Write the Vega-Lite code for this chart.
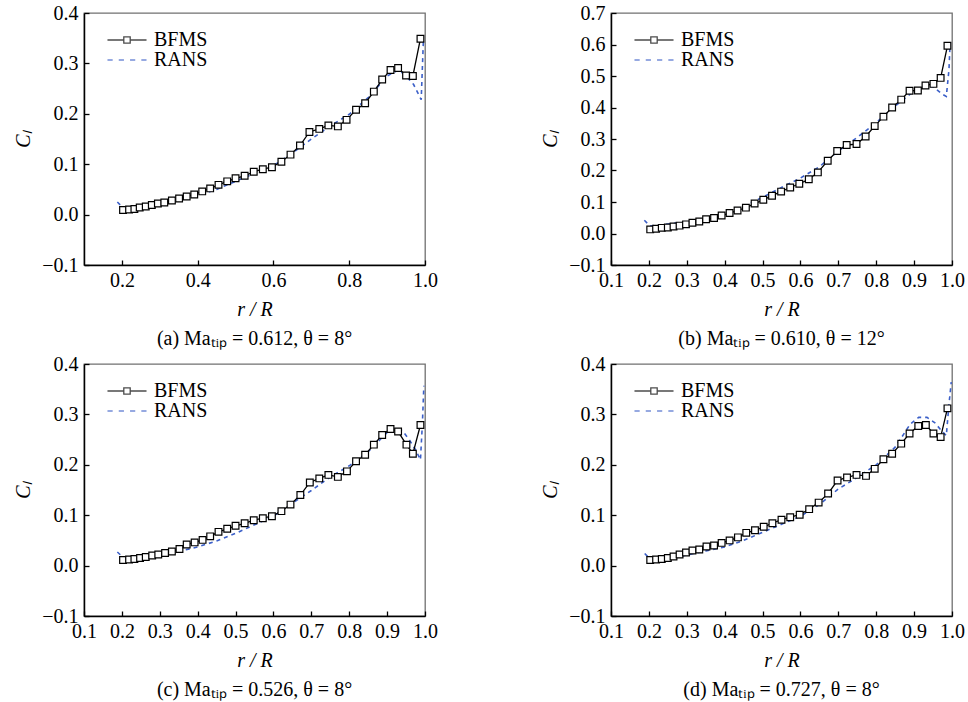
{
  "$schema": "https://vega.github.io/schema/vega-lite/v6.json",
  "background": "white",
  "padding": {"left": 13, "top": 2, "right": 5, "bottom": 5},
  "bounds": "flush",
  "columns": 2,
  "spacing": {"column": 186, "row": 99},
  "resolve": {"scale": {"shape": "independent", "stroke": "independent"}, "legend": {"shape": "independent", "stroke": "independent"}},
  "datasets": {
    "a": [
      {"s":"BFMS","r":0.203,"cl":0.009},{"s":"BFMS","r":0.219,"cl":0.010},{"s":"BFMS","r":0.233,"cl":0.011},{"s":"BFMS","r":0.247,"cl":0.014},{"s":"BFMS","r":0.263,"cl":0.016},{"s":"BFMS","r":0.279,"cl":0.019},{"s":"BFMS","r":0.295,"cl":0.022},{"s":"BFMS","r":0.312,"cl":0.024},{"s":"BFMS","r":0.332,"cl":0.028},{"s":"BFMS","r":0.351,"cl":0.032},{"s":"BFMS","r":0.371,"cl":0.036},{"s":"BFMS","r":0.391,"cl":0.040},{"s":"BFMS","r":0.412,"cl":0.046},{"s":"BFMS","r":0.433,"cl":0.052},{"s":"BFMS","r":0.455,"cl":0.059},{"s":"BFMS","r":0.478,"cl":0.066},{"s":"BFMS","r":0.500,"cl":0.072},{"s":"BFMS","r":0.524,"cl":0.077},{"s":"BFMS","r":0.548,"cl":0.085},{"s":"BFMS","r":0.572,"cl":0.090},{"s":"BFMS","r":0.596,"cl":0.094},{"s":"BFMS","r":0.621,"cl":0.105},{"s":"BFMS","r":0.645,"cl":0.119},{"s":"BFMS","r":0.670,"cl":0.137},{"s":"BFMS","r":0.695,"cl":0.164},{"s":"BFMS","r":0.721,"cl":0.170},{"s":"BFMS","r":0.745,"cl":0.177},{"s":"BFMS","r":0.770,"cl":0.175},{"s":"BFMS","r":0.793,"cl":0.188},{"s":"BFMS","r":0.818,"cl":0.208},{"s":"BFMS","r":0.842,"cl":0.221},{"s":"BFMS","r":0.865,"cl":0.244},{"s":"BFMS","r":0.887,"cl":0.268},{"s":"BFMS","r":0.909,"cl":0.287},{"s":"BFMS","r":0.929,"cl":0.291},{"s":"BFMS","r":0.950,"cl":0.276},{"s":"BFMS","r":0.968,"cl":0.275},{"s":"BFMS","r":0.988,"cl":0.349},
      {"s":"RANS","r":0.188,"cl":0.025},{"s":"RANS","r":0.205,"cl":0.012},{"s":"RANS","r":0.25,"cl":0.014},{"s":"RANS","r":0.3,"cl":0.021},{"s":"RANS","r":0.35,"cl":0.030},{"s":"RANS","r":0.4,"cl":0.038},{"s":"RANS","r":0.45,"cl":0.050},{"s":"RANS","r":0.5,"cl":0.066},{"s":"RANS","r":0.55,"cl":0.082},{"s":"RANS","r":0.6,"cl":0.097},{"s":"RANS","r":0.65,"cl":0.122},{"s":"RANS","r":0.7,"cl":0.150},{"s":"RANS","r":0.75,"cl":0.176},{"s":"RANS","r":0.8,"cl":0.199},{"s":"RANS","r":0.85,"cl":0.232},{"s":"RANS","r":0.9,"cl":0.275},{"s":"RANS","r":0.93,"cl":0.287},{"s":"RANS","r":0.95,"cl":0.275},{"s":"RANS","r":0.97,"cl":0.258},{"s":"RANS","r":0.99,"cl":0.228},{"s":"RANS","r":0.993,"cl":0.29},{"s":"RANS","r":0.996,"cl":0.35}
    ],
    "b": [
      {"s":"BFMS","r":0.2035,"cl":0.013},{"s":"BFMS","r":0.219,"cl":0.015},{"s":"BFMS","r":0.234,"cl":0.018},{"s":"BFMS","r":0.250,"cl":0.019},{"s":"BFMS","r":0.265,"cl":0.022},{"s":"BFMS","r":0.281,"cl":0.025},{"s":"BFMS","r":0.298,"cl":0.029},{"s":"BFMS","r":0.315,"cl":0.034},{"s":"BFMS","r":0.333,"cl":0.038},{"s":"BFMS","r":0.351,"cl":0.045},{"s":"BFMS","r":0.372,"cl":0.049},{"s":"BFMS","r":0.392,"cl":0.057},{"s":"BFMS","r":0.413,"cl":0.065},{"s":"BFMS","r":0.434,"cl":0.073},{"s":"BFMS","r":0.456,"cl":0.082},{"s":"BFMS","r":0.479,"cl":0.095},{"s":"BFMS","r":0.502,"cl":0.107},{"s":"BFMS","r":0.525,"cl":0.120},{"s":"BFMS","r":0.549,"cl":0.133},{"s":"BFMS","r":0.573,"cl":0.146},{"s":"BFMS","r":0.597,"cl":0.158},{"s":"BFMS","r":0.622,"cl":0.172},{"s":"BFMS","r":0.646,"cl":0.194},{"s":"BFMS","r":0.672,"cl":0.231},{"s":"BFMS","r":0.697,"cl":0.262},{"s":"BFMS","r":0.722,"cl":0.281},{"s":"BFMS","r":0.748,"cl":0.284},{"s":"BFMS","r":0.772,"cl":0.308},{"s":"BFMS","r":0.796,"cl":0.341},{"s":"BFMS","r":0.819,"cl":0.371},{"s":"BFMS","r":0.842,"cl":0.400},{"s":"BFMS","r":0.866,"cl":0.425},{"s":"BFMS","r":0.888,"cl":0.453},{"s":"BFMS","r":0.910,"cl":0.454},{"s":"BFMS","r":0.930,"cl":0.470},{"s":"BFMS","r":0.951,"cl":0.475},{"s":"BFMS","r":0.970,"cl":0.494},{"s":"BFMS","r":0.988,"cl":0.596},
      {"s":"RANS","r":0.188,"cl":0.042},{"s":"RANS","r":0.203,"cl":0.024},{"s":"RANS","r":0.25,"cl":0.030},{"s":"RANS","r":0.3,"cl":0.037},{"s":"RANS","r":0.35,"cl":0.048},{"s":"RANS","r":0.4,"cl":0.063},{"s":"RANS","r":0.45,"cl":0.085},{"s":"RANS","r":0.5,"cl":0.115},{"s":"RANS","r":0.55,"cl":0.146},{"s":"RANS","r":0.6,"cl":0.176},{"s":"RANS","r":0.65,"cl":0.212},{"s":"RANS","r":0.7,"cl":0.262},{"s":"RANS","r":0.75,"cl":0.305},{"s":"RANS","r":0.8,"cl":0.352},{"s":"RANS","r":0.85,"cl":0.405},{"s":"RANS","r":0.9,"cl":0.452},{"s":"RANS","r":0.93,"cl":0.468},{"s":"RANS","r":0.95,"cl":0.466},{"s":"RANS","r":0.975,"cl":0.442},{"s":"RANS","r":0.985,"cl":0.435},{"s":"RANS","r":0.992,"cl":0.52},{"s":"RANS","r":0.995,"cl":0.605}
    ],
    "c": [
      {"s":"BFMS","r":0.203,"cl":0.011},{"s":"BFMS","r":0.219,"cl":0.012},{"s":"BFMS","r":0.233,"cl":0.013},{"s":"BFMS","r":0.248,"cl":0.015},{"s":"BFMS","r":0.263,"cl":0.017},{"s":"BFMS","r":0.280,"cl":0.020},{"s":"BFMS","r":0.296,"cl":0.022},{"s":"BFMS","r":0.314,"cl":0.025},{"s":"BFMS","r":0.332,"cl":0.028},{"s":"BFMS","r":0.352,"cl":0.033},{"s":"BFMS","r":0.371,"cl":0.042},{"s":"BFMS","r":0.392,"cl":0.046},{"s":"BFMS","r":0.413,"cl":0.051},{"s":"BFMS","r":0.433,"cl":0.058},{"s":"BFMS","r":0.455,"cl":0.067},{"s":"BFMS","r":0.478,"cl":0.073},{"s":"BFMS","r":0.500,"cl":0.079},{"s":"BFMS","r":0.524,"cl":0.084},{"s":"BFMS","r":0.548,"cl":0.090},{"s":"BFMS","r":0.572,"cl":0.094},{"s":"BFMS","r":0.596,"cl":0.098},{"s":"BFMS","r":0.621,"cl":0.108},{"s":"BFMS","r":0.645,"cl":0.121},{"s":"BFMS","r":0.671,"cl":0.140},{"s":"BFMS","r":0.696,"cl":0.165},{"s":"BFMS","r":0.721,"cl":0.173},{"s":"BFMS","r":0.745,"cl":0.180},{"s":"BFMS","r":0.770,"cl":0.176},{"s":"BFMS","r":0.794,"cl":0.187},{"s":"BFMS","r":0.818,"cl":0.207},{"s":"BFMS","r":0.842,"cl":0.220},{"s":"BFMS","r":0.865,"cl":0.240},{"s":"BFMS","r":0.887,"cl":0.259},{"s":"BFMS","r":0.909,"cl":0.271},{"s":"BFMS","r":0.929,"cl":0.266},{"s":"BFMS","r":0.951,"cl":0.240},{"s":"BFMS","r":0.968,"cl":0.222},{"s":"BFMS","r":0.988,"cl":0.279},
      {"s":"RANS","r":0.188,"cl":0.027},{"s":"RANS","r":0.208,"cl":0.013},{"s":"RANS","r":0.25,"cl":0.015},{"s":"RANS","r":0.3,"cl":0.021},{"s":"RANS","r":0.35,"cl":0.028},{"s":"RANS","r":0.4,"cl":0.037},{"s":"RANS","r":0.45,"cl":0.049},{"s":"RANS","r":0.5,"cl":0.064},{"s":"RANS","r":0.55,"cl":0.081},{"s":"RANS","r":0.6,"cl":0.098},{"s":"RANS","r":0.65,"cl":0.124},{"s":"RANS","r":0.7,"cl":0.149},{"s":"RANS","r":0.75,"cl":0.176},{"s":"RANS","r":0.8,"cl":0.198},{"s":"RANS","r":0.85,"cl":0.226},{"s":"RANS","r":0.9,"cl":0.264},{"s":"RANS","r":0.92,"cl":0.272},{"s":"RANS","r":0.94,"cl":0.268},{"s":"RANS","r":0.96,"cl":0.248},{"s":"RANS","r":0.975,"cl":0.23},{"s":"RANS","r":0.988,"cl":0.21},{"s":"RANS","r":0.993,"cl":0.28},{"s":"RANS","r":0.997,"cl":0.357}
    ],
    "d": [
      {"s":"BFMS","r":0.2035,"cl":0.011},{"s":"BFMS","r":0.219,"cl":0.012},{"s":"BFMS","r":0.234,"cl":0.013},{"s":"BFMS","r":0.250,"cl":0.015},{"s":"BFMS","r":0.265,"cl":0.018},{"s":"BFMS","r":0.281,"cl":0.022},{"s":"BFMS","r":0.298,"cl":0.026},{"s":"BFMS","r":0.315,"cl":0.030},{"s":"BFMS","r":0.333,"cl":0.032},{"s":"BFMS","r":0.352,"cl":0.038},{"s":"BFMS","r":0.372,"cl":0.040},{"s":"BFMS","r":0.392,"cl":0.045},{"s":"BFMS","r":0.413,"cl":0.050},{"s":"BFMS","r":0.435,"cl":0.056},{"s":"BFMS","r":0.457,"cl":0.065},{"s":"BFMS","r":0.480,"cl":0.070},{"s":"BFMS","r":0.503,"cl":0.077},{"s":"BFMS","r":0.526,"cl":0.084},{"s":"BFMS","r":0.550,"cl":0.091},{"s":"BFMS","r":0.573,"cl":0.096},{"s":"BFMS","r":0.598,"cl":0.101},{"s":"BFMS","r":0.623,"cl":0.112},{"s":"BFMS","r":0.648,"cl":0.125},{"s":"BFMS","r":0.673,"cl":0.143},{"s":"BFMS","r":0.698,"cl":0.169},{"s":"BFMS","r":0.723,"cl":0.175},{"s":"BFMS","r":0.748,"cl":0.180},{"s":"BFMS","r":0.773,"cl":0.178},{"s":"BFMS","r":0.796,"cl":0.192},{"s":"BFMS","r":0.819,"cl":0.211},{"s":"BFMS","r":0.842,"cl":0.222},{"s":"BFMS","r":0.866,"cl":0.242},{"s":"BFMS","r":0.888,"cl":0.262},{"s":"BFMS","r":0.911,"cl":0.277},{"s":"BFMS","r":0.931,"cl":0.279},{"s":"BFMS","r":0.951,"cl":0.262},{"s":"BFMS","r":0.970,"cl":0.255},{"s":"BFMS","r":0.988,"cl":0.312},
      {"s":"RANS","r":0.189,"cl":0.024},{"s":"RANS","r":0.204,"cl":0.012},{"s":"RANS","r":0.25,"cl":0.014},{"s":"RANS","r":0.3,"cl":0.021},{"s":"RANS","r":0.35,"cl":0.029},{"s":"RANS","r":0.4,"cl":0.037},{"s":"RANS","r":0.45,"cl":0.050},{"s":"RANS","r":0.5,"cl":0.066},{"s":"RANS","r":0.55,"cl":0.082},{"s":"RANS","r":0.6,"cl":0.098},{"s":"RANS","r":0.65,"cl":0.121},{"s":"RANS","r":0.7,"cl":0.152},{"s":"RANS","r":0.75,"cl":0.175},{"s":"RANS","r":0.8,"cl":0.200},{"s":"RANS","r":0.85,"cl":0.235},{"s":"RANS","r":0.89,"cl":0.281},{"s":"RANS","r":0.912,"cl":0.294},{"s":"RANS","r":0.934,"cl":0.294},{"s":"RANS","r":0.955,"cl":0.283},{"s":"RANS","r":0.972,"cl":0.268},{"s":"RANS","r":0.985,"cl":0.258},{"s":"RANS","r":0.992,"cl":0.32},{"s":"RANS","r":0.998,"cl":0.364}
    ]
  },
  "concat": [
    {
      "data": {"name": "a"},
      "width": 341, "height": 252,
      "title": {"text": "(a)  Maₜᵢₚ = 0.612, θ = 8°"},
      "encoding": {
        "x": {"field": "r", "type": "quantitative", "scale": {"domain": [0.1, 1.0], "nice": false, "zero": false}, "axis": {"values": [0.2, 0.4, 0.6, 0.8, 1.0], "format": ".1f", "title": "r / R"}},
        "y": {"field": "cl", "type": "quantitative", "scale": {"domain": [-0.1, 0.4], "nice": false, "zero": false}, "axis": {"values": [-0.1, 0, 0.1, 0.2, 0.3, 0.4], "format": ".1f", "title": "Cₗ"}}
      },
      "layer": [
        {"transform": [{"filter": "datum.s === 'RANS'"}], "mark": {"type": "line", "stroke": "#3b5fc8", "strokeWidth": 1.6, "strokeDash": [4, 4]}},
        {"transform": [{"filter": "datum.s === 'BFMS'"}], "mark": {"type": "line", "stroke": "black", "strokeWidth": 1.3}},
        {"transform": [{"filter": "datum.s === 'BFMS'"}], "mark": {"type": "point", "shape": "square", "filled": true, "fill": "white", "stroke": "black", "strokeWidth": 1.2, "size": 45, "opacity": 1}},
        {"transform": [{"filter": "datum.r > 5"}], "mark": {"type": "point"},
         "encoding": {
           "shape": {"field": "s", "type": "nominal", "scale": {"domain": ["BFMS", "RANS"], "range": ["M-2.44,0H-0.4M0.4,0H2.44M-0.4,-0.4H0.4V0.4H-0.4Z", "M-2.44,0H-1.79M-1.03,0H-0.38M0.38,0H1.03M1.79,0H2.44"]}, "legend": {"title": null}},
           "stroke": {"field": "s", "type": "nominal", "scale": {"domain": ["BFMS", "RANS"], "range": ["black", "#3b5fc8"]}, "legend": {"title": null}}
         }}
      ]
    },
    {
      "data": {"name": "b"},
      "width": 341, "height": 252,
      "title": {"text": "(b)  Maₜᵢₚ = 0.610, θ = 12°"},
      "encoding": {
        "x": {"field": "r", "type": "quantitative", "scale": {"domain": [0.1, 1.0], "nice": false, "zero": false}, "axis": {"values": [0.1, 0.2, 0.3, 0.4, 0.5, 0.6, 0.7, 0.8, 0.9, 1.0], "format": ".1f", "title": "r / R"}},
        "y": {"field": "cl", "type": "quantitative", "scale": {"domain": [-0.1, 0.7], "nice": false, "zero": false}, "axis": {"values": [-0.1, 0, 0.1, 0.2, 0.3, 0.4, 0.5, 0.6, 0.7], "format": ".1f", "title": "Cₗ"}}
      },
      "layer": [
        {"transform": [{"filter": "datum.s === 'RANS'"}], "mark": {"type": "line", "stroke": "#3b5fc8", "strokeWidth": 1.6, "strokeDash": [4, 4]}},
        {"transform": [{"filter": "datum.s === 'BFMS'"}], "mark": {"type": "line", "stroke": "black", "strokeWidth": 1.3}},
        {"transform": [{"filter": "datum.s === 'BFMS'"}], "mark": {"type": "point", "shape": "square", "filled": true, "fill": "white", "stroke": "black", "strokeWidth": 1.2, "size": 45, "opacity": 1}},
        {"transform": [{"filter": "datum.r > 5"}], "mark": {"type": "point"},
         "encoding": {
           "shape": {"field": "s", "type": "nominal", "scale": {"domain": ["BFMS", "RANS"], "range": ["M-2.44,0H-0.4M0.4,0H2.44M-0.4,-0.4H0.4V0.4H-0.4Z", "M-2.44,0H-1.79M-1.03,0H-0.38M0.38,0H1.03M1.79,0H2.44"]}, "legend": {"title": null}},
           "stroke": {"field": "s", "type": "nominal", "scale": {"domain": ["BFMS", "RANS"], "range": ["black", "#3b5fc8"]}, "legend": {"title": null}}
         }}
      ]
    },
    {
      "data": {"name": "c"},
      "width": 341, "height": 252,
      "title": {"text": "(c)  Maₜᵢₚ = 0.526, θ = 8°"},
      "encoding": {
        "x": {"field": "r", "type": "quantitative", "scale": {"domain": [0.1, 1.0], "nice": false, "zero": false}, "axis": {"values": [0.1, 0.2, 0.3, 0.4, 0.5, 0.6, 0.7, 0.8, 0.9, 1.0], "format": ".1f", "title": "r / R"}},
        "y": {"field": "cl", "type": "quantitative", "scale": {"domain": [-0.1, 0.4], "nice": false, "zero": false}, "axis": {"values": [-0.1, 0, 0.1, 0.2, 0.3, 0.4], "format": ".1f", "title": "Cₗ"}}
      },
      "layer": [
        {"transform": [{"filter": "datum.s === 'RANS'"}], "mark": {"type": "line", "stroke": "#3b5fc8", "strokeWidth": 1.6, "strokeDash": [4, 4]}},
        {"transform": [{"filter": "datum.s === 'BFMS'"}], "mark": {"type": "line", "stroke": "black", "strokeWidth": 1.3}},
        {"transform": [{"filter": "datum.s === 'BFMS'"}], "mark": {"type": "point", "shape": "square", "filled": true, "fill": "white", "stroke": "black", "strokeWidth": 1.2, "size": 45, "opacity": 1}},
        {"transform": [{"filter": "datum.r > 5"}], "mark": {"type": "point"},
         "encoding": {
           "shape": {"field": "s", "type": "nominal", "scale": {"domain": ["BFMS", "RANS"], "range": ["M-2.44,0H-0.4M0.4,0H2.44M-0.4,-0.4H0.4V0.4H-0.4Z", "M-2.44,0H-1.79M-1.03,0H-0.38M0.38,0H1.03M1.79,0H2.44"]}, "legend": {"title": null}},
           "stroke": {"field": "s", "type": "nominal", "scale": {"domain": ["BFMS", "RANS"], "range": ["black", "#3b5fc8"]}, "legend": {"title": null}}
         }}
      ]
    },
    {
      "data": {"name": "d"},
      "width": 341, "height": 252,
      "title": {"text": "(d)  Maₜᵢₚ = 0.727, θ = 8°"},
      "encoding": {
        "x": {"field": "r", "type": "quantitative", "scale": {"domain": [0.1, 1.0], "nice": false, "zero": false}, "axis": {"values": [0.1, 0.2, 0.3, 0.4, 0.5, 0.6, 0.7, 0.8, 0.9, 1.0], "format": ".1f", "title": "r / R"}},
        "y": {"field": "cl", "type": "quantitative", "scale": {"domain": [-0.1, 0.4], "nice": false, "zero": false}, "axis": {"values": [-0.1, 0, 0.1, 0.2, 0.3, 0.4], "format": ".1f", "title": "Cₗ"}}
      },
      "layer": [
        {"transform": [{"filter": "datum.s === 'RANS'"}], "mark": {"type": "line", "stroke": "#3b5fc8", "strokeWidth": 1.6, "strokeDash": [4, 4]}},
        {"transform": [{"filter": "datum.s === 'BFMS'"}], "mark": {"type": "line", "stroke": "black", "strokeWidth": 1.3}},
        {"transform": [{"filter": "datum.s === 'BFMS'"}], "mark": {"type": "point", "shape": "square", "filled": true, "fill": "white", "stroke": "black", "strokeWidth": 1.2, "size": 45, "opacity": 1}},
        {"transform": [{"filter": "datum.r > 5"}], "mark": {"type": "point"},
         "encoding": {
           "shape": {"field": "s", "type": "nominal", "scale": {"domain": ["BFMS", "RANS"], "range": ["M-2.44,0H-0.4M0.4,0H2.44M-0.4,-0.4H0.4V0.4H-0.4Z", "M-2.44,0H-1.79M-1.03,0H-0.38M0.38,0H1.03M1.79,0H2.44"]}, "legend": {"title": null}},
           "stroke": {"field": "s", "type": "nominal", "scale": {"domain": ["BFMS", "RANS"], "range": ["black", "#3b5fc8"]}, "legend": {"title": null}}
         }}
      ]
    }
  ],
  "config": {
    "font": "Liberation Serif",
    "view": {"stroke": "#707070", "strokeWidth": 1.3},
    "axis": {
      "grid": false,
      "labelFont": "Liberation Serif", "labelFontSize": 20, "labelColor": "black", "labelFlush": false, "labelOverlap": false, "labelPadding": 11,
      "titleFont": "Liberation Serif", "titleFontSize": 20, "titleFontWeight": "normal", "titleFontStyle": "italic", "titleColor": "black",
      "domainColor": "black", "domainWidth": 1.5,
      "tickColor": "black", "tickWidth": 1.3, "tickSize": -5
    },
    "axisX": {"labelPadding": 10, "titlePadding": 9},
    "axisY": {"labelPadding": 11, "titlePadding": 8},
    "legend": {
      "orient": "top-left", "offset": 17, "padding": 0,
      "labelFont": "Liberation Serif", "labelFontSize": 20, "labelColor": "black",
      "symbolSize": 256, "symbolStrokeWidth": 1.3, "symbolOffset": 16, "labelOffset": 17, "rowPadding": 0
    },
    "title": {"font": "Liberation Serif", "fontSize": 20, "fontWeight": "normal", "color": "black", "orient": "bottom", "frame": "group", "anchor": "middle", "offset": 10}
  }
}
